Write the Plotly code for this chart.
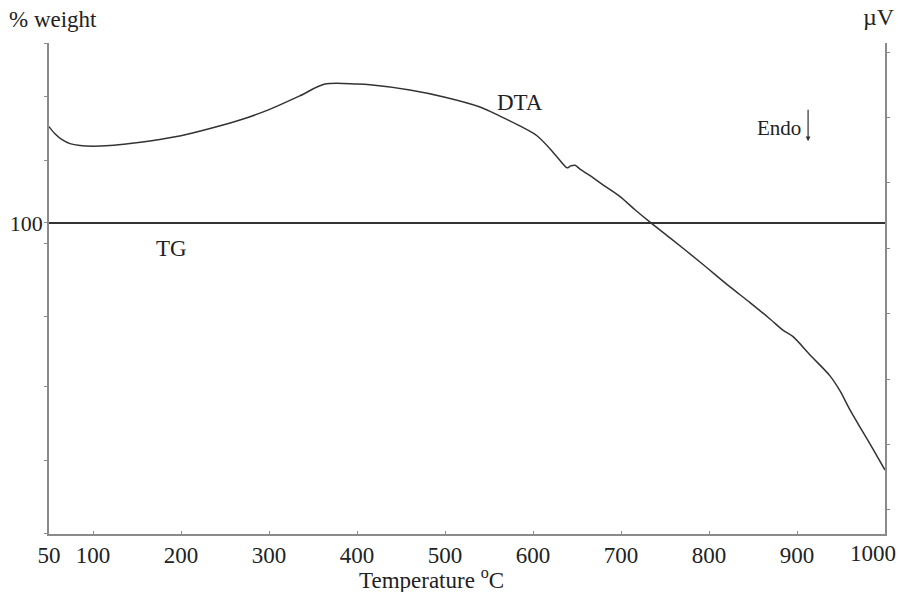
import plotly.graph_objects as go

# Temperature (°C) and DTA signal (µV, arbitrary units)
dta_temp = [50, 56.8, 64.8, 73.9, 85.2, 100, 119.3, 142, 164.8, 200, 233, 267, 300, 335,
            363.6, 400, 414.8, 460, 500, 539.8, 562.5, 585, 604.5, 622.7, 634, 638.6, 643,
            647.7, 653.4, 664.8, 679.5, 698.9, 715.9, 733, 755.7, 789.8, 823.9, 846.6,
            869.3, 884, 895.5, 914.8, 937.5, 948.9, 960.2, 975, 986.4, 1000]
dta_uv = [5.86, 5.75, 5.66, 5.60, 5.57, 5.56, 5.57, 5.60, 5.64, 5.72, 5.83, 5.96, 6.12, 6.33,
          6.51, 6.51, 6.50, 6.42, 6.31, 6.16, 6.02, 5.87, 5.72, 5.47, 5.29, 5.23, 5.26,
          5.27, 5.21, 5.11, 4.97, 4.79, 4.59, 4.40, 4.16, 3.79, 3.41, 3.17,
          2.92, 2.75, 2.65, 2.37, 2.05, 1.82, 1.53, 1.19, 0.93, 0.61]

tg_temp = [50, 1000]
tg_weight = [100, 100]

x_ticks = [50, 100, 200, 300, 400, 500, 600, 700, 800, 900, 1000]
x_labels = ["50", "100", "200", "300", "400", "500", "600", "700", "800", "900", ""]
last_x_label = "1000"
left_ticks = [55.6, 66.1, 76.7, 86.7, 97, 100, 108.9, 118.1, 125.7]
left_labels = ["", "", "", "", "", "100", "", "", ""]
right_ticks = [0, 1, 2, 3, 4, 5, 6, 7]

FONT = "Liberation Serif, Times New Roman, serif"
AX = "#8a8a8a"
INK = "#333333"

fig = go.Figure()
fig.add_trace(go.Scatter(x=tg_temp, y=tg_weight, mode="lines",
                         line=dict(color=INK, width=2.2), yaxis="y", hoverinfo="skip"))
fig.add_trace(go.Scatter(x=dta_temp, y=dta_uv, mode="lines",
                         line=dict(color=INK, width=1.5, shape="spline", smoothing=0.9),
                         yaxis="y2", hoverinfo="skip"))

fig.update_layout(
    width=900, height=592,
    margin=dict(l=49, r=15, t=43, b=58, autoexpand=False),
    paper_bgcolor="white", plot_bgcolor="white",
    showlegend=False,
    font=dict(family=FONT, size=23, color="#222"),
    xaxis=dict(range=[50, 1000], tickvals=x_ticks, ticktext=x_labels,
               automargin=False,
               showgrid=False, zeroline=False, showline=True, linecolor=AX, linewidth=1.5,
               ticks="inside", ticklen=3, tickcolor=AX, ticklabeloverflow="allow",
               tickfont=dict(family=FONT, size=23, color="#222")),
    yaxis=dict(range=[55.57, 125.71], tickvals=left_ticks, ticktext=left_labels,
               automargin=False, ticklabelstandoff=-3,
               showgrid=False, zeroline=False, showline=True, linecolor=AX, linewidth=1.5,
               ticks="outside", ticklen=3, tickcolor=AX, ticklabeloverflow="allow",
               tickfont=dict(family=FONT, size=22, color="#222")),
    yaxis2=dict(range=[-0.367, 7.138], tickvals=right_ticks, showticklabels=False,
                overlaying="y", side="right", anchor="x", automargin=False,
                showgrid=False, zeroline=False, showline=True, linecolor=AX, linewidth=1.5,
                ticks="outside", ticklen=3, tickcolor=AX),
)

def label(text, x, y, size=23, xanchor="center", xshift=0):
    fig.add_annotation(text=text, x=x, y=y, xref="paper", yref="paper",
                       showarrow=False, xanchor=xanchor, yanchor="middle", xshift=xshift,
                       font=dict(family=FONT, size=size, color="#222"))

label("% weight", -0.05, 1.047, xanchor="left")
label("µV", 0.993, 1.053, size=24)
label("DTA", 0.563, 0.878)
label("TG", 0.146, 0.582)
label("Endo", 0.873, 0.827, size=21)
label("Temperature <sup>o</sup>C", 0.458, -0.09)
label(last_x_label, 1.0, -0.0387, xanchor="right", xshift=13)

fig.add_annotation(x=0.908, y=0.80, xref="paper", yref="paper", ax=0, ay=-33,
                   text="", showarrow=True,
                   arrowhead=2, arrowsize=0.8, arrowwidth=1.2, arrowcolor="#333")

fig.write_html("out.html", config={"displayModeBar": False},
               post_script="document.body.style.margin='0';document.body.style.overflow='hidden';")
